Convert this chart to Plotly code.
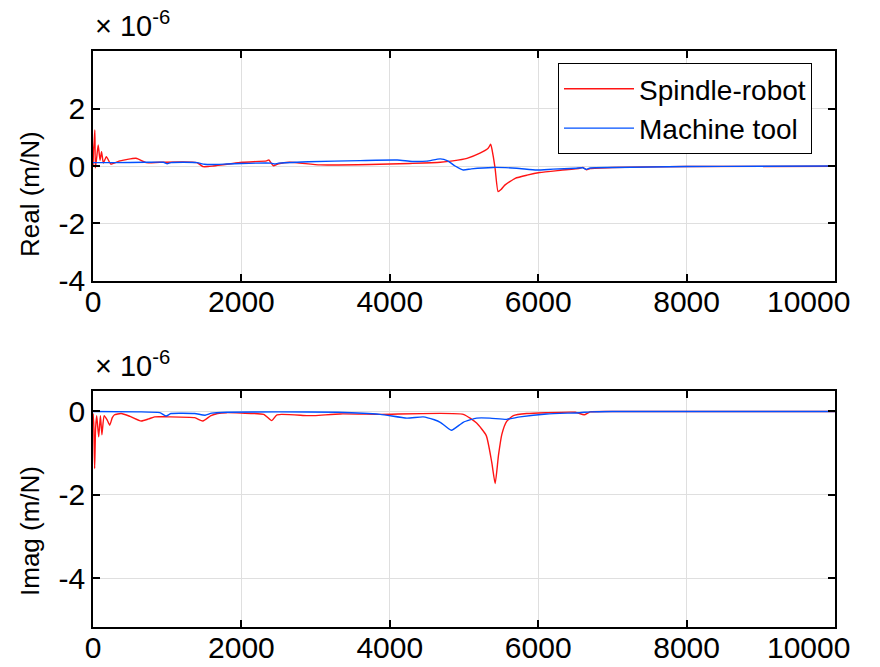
import plotly.graph_objects as go

W, H = 880, 667

# Frequency response (values in units of 1e-6 m/N), frequency in Hz
f_real_spindle = [0, 8, 15, 25, 32, 50, 70, 95, 115, 140, 180, 240, 350, 580, 715, 900,
                  1400, 1480, 1550, 1620, 2020, 2340, 2370, 2430, 2500, 2650, 3060, 3730,
                  4270, 4680, 4850, 5040, 5215, 5325, 5360, 5390, 5420, 5460, 5500, 5550,
                  5690, 5850, 6020, 6300, 6560, 6600, 6650, 6700, 7000, 8000, 10000]
real_spindle = [0.0, 0.6, 0.8, 1.26, -0.07, 0.3, 0.74, 0.2, 0.5, 0.1, 0.33, 0.07, 0.17, 0.27,
                0.12, 0.13, 0.12, -0.02, -0.02, 0.0, 0.13, 0.18, 0.21, 0.01, 0.08, 0.13, 0.04,
                0.05, 0.09, 0.13, 0.18, 0.27, 0.45, 0.62, 0.76, 0.4, -0.1, -0.9, -0.82, -0.67,
                -0.43, -0.32, -0.23, -0.15, -0.08, -0.05, -0.13, -0.09, -0.05, -0.02, -0.01]

f_real_machine = [0, 300, 700, 950, 1000, 1050, 1400, 1500, 1600, 1800, 2000, 2400, 2450,
                  2500, 2900, 3600, 4100, 4300, 4500, 4680, 4780, 4880, 4990, 5100, 5390,
                  5710, 5980, 6200, 6500, 6600, 6650, 6700, 7000, 8000, 9000, 10000]
real_machine = [0.12, 0.12, 0.13, 0.13, 0.08, 0.12, 0.12, 0.06, 0.05, 0.07, 0.09, 0.1, 0.07,
                0.1, 0.15, 0.19, 0.21, 0.16, 0.17, 0.25, 0.18, 0.0, -0.14, -0.1, -0.05, -0.08,
                -0.14, -0.11, -0.08, -0.06, -0.12, -0.07, -0.05, -0.02, -0.01, 0.0]

f_imag_spindle = [0, 10, 22, 35, 50, 77, 100, 120, 150, 190, 225, 260, 290, 380, 500, 650,
                  750, 830, 1010, 1370, 1480, 1590, 1680, 1800, 2000, 2300, 2410, 2480, 2880,
                  3000, 3330, 3870, 4990, 5170, 5300, 5373, 5420, 5465, 5510, 5575, 5665,
                  5845, 6100, 6500, 6620, 6700, 7000, 10000]
imag_spindle = [-0.05, -0.3, -1.37, -0.4, -0.1, -0.61, -0.1, -0.56, -0.1, -0.2, -0.33, -0.15,
                -0.08, -0.05, -0.12, -0.23, -0.18, -0.13, -0.13, -0.15, -0.23, -0.1, -0.05,
                -0.03, -0.04, -0.07, -0.22, -0.08, -0.1, -0.1, -0.06, -0.07, -0.07, -0.28,
                -0.58, -1.21, -1.73, -1.05, -0.55, -0.24, -0.1, -0.05, -0.03, -0.02, -0.08,
                -0.01, 0.0, 0.0]

f_imag_machine = [0, 600, 900, 985, 1050, 1370, 1510, 1600, 1800, 2500, 3300, 3870, 4230,
                  4450, 4600, 4680, 4830, 4990, 5170, 5350, 5575, 5755, 6115, 6560, 6700,
                  7000, 10000]
imag_machine = [0.0, -0.01, -0.03, -0.11, -0.05, -0.05, -0.09, -0.04, -0.02, -0.01, -0.02,
                -0.07, -0.16, -0.13, -0.2, -0.26, -0.45, -0.26, -0.16, -0.16, -0.19, -0.13,
                -0.06, -0.03, -0.01, 0.0, 0.0]

# Tick positions and their labels (last x label is drawn separately, pulled inside the figure)
x_ticks = [0, 2000, 4000, 6000, 8000, 10000]
x_ticktext = ["0", "2000", "4000", "6000", "8000", ""]
x_last_label = "10000"
real_ticks = [-4, -2, 0, 2]
real_ticktext = ["-4", "-2", "0", "2"]
imag_ticks = [-4, -2, 0]
imag_ticktext = ["-4", "-2", "0"]

RED = "rgb(255,20,20)"
BLUE = "rgb(0,80,255)"
FONT = "Liberation Sans, Arial, sans-serif"
GRID = "rgb(223,223,223)"
TICK_SIZE = 30
TITLE_SIZE = 26


def px_x(p):
    return p / W


def px_y(p):
    return 1 - p / H


fig = go.Figure()
line_style = dict(width=1.4, shape="spline", smoothing=0.5)
fig.add_trace(go.Scatter(x=f_real_spindle, y=real_spindle, mode="lines", name="Spindle-robot",
                         line=dict(color=RED, **line_style), xaxis="x", yaxis="y"))
fig.add_trace(go.Scatter(x=f_real_machine, y=real_machine, mode="lines", name="Machine tool",
                         line=dict(color=BLUE, **line_style), xaxis="x", yaxis="y"))
fig.add_trace(go.Scatter(x=f_imag_spindle, y=imag_spindle, mode="lines", showlegend=False,
                         line=dict(color=RED, **line_style), xaxis="x2", yaxis="y2"))
fig.add_trace(go.Scatter(x=f_imag_machine, y=imag_machine, mode="lines", showlegend=False,
                         line=dict(color=BLUE, **line_style), xaxis="x2", yaxis="y2"))

axis_common = dict(showline=True, linecolor="black", linewidth=1.5, mirror="ticks",
                   ticks="inside", ticklen=7, tickwidth=1.5, tickcolor="black",
                   showgrid=True, gridcolor=GRID, gridwidth=1, zeroline=False,
                   tickfont=dict(family=FONT, size=TICK_SIZE, color="black"), automargin=False)

xdom = [px_x(93), px_x(835)]
top_dom = [px_y(281), px_y(51)]
bot_dom = [px_y(627), px_y(391)]
fig.update_layout(
    width=W, height=H,
    margin=dict(l=0, r=0, t=0, b=0),
    paper_bgcolor="white", plot_bgcolor="white",
    xaxis=dict(domain=xdom, range=[0, 10000], tickvals=x_ticks, ticktext=x_ticktext,
               anchor="y", ticklabelstandoff=-7, **axis_common),
    yaxis=dict(domain=top_dom, range=[-4.03, 4.03], tickvals=real_ticks,
               ticktext=real_ticktext, anchor="x", **axis_common),
    xaxis2=dict(domain=xdom, range=[0, 10000], tickvals=x_ticks, ticktext=x_ticktext,
                anchor="y2", ticklabelstandoff=-7, **axis_common),
    yaxis2=dict(domain=bot_dom, range=[-5.17, 0.49], tickvals=imag_ticks,
                ticktext=imag_ticktext, anchor="x2", **axis_common),
    legend=dict(x=px_x(558), y=px_y(63), xanchor="left", yanchor="top",
                bgcolor="white", bordercolor="black", borderwidth=1,
                font=dict(family=FONT, size=28, color="black"), itemwidth=70,
                tracegroupgap=0),
    showlegend=True,
)

# Axis titles
for title, yc in (("Real (m/N)", 194), ("Imag (m/N)", 531)):
    fig.add_annotation(text=title, xref="paper", yref="paper", x=px_x(30), y=px_y(yc),
                       xanchor="center", yanchor="middle", textangle=-90, showarrow=False,
                       font=dict(family=FONT, size=TITLE_SIZE, color="black"))

# Exponent multipliers above each axes
for ybase in (44, 384):
    fig.add_annotation(text="\u00d7 10<sup>-6</sup>", xref="paper", yref="paper",
                       x=px_x(93), y=px_y(ybase), xanchor="left", yanchor="bottom",
                       showarrow=False, font=dict(family=FONT, size=29, color="black"))

# Last x tick label of each axes
for yc in (301, 647):
    fig.add_annotation(text=x_last_label, xref="paper", yref="paper",
                       x=px_x(852), y=px_y(yc), xanchor="right", yanchor="middle",
                       showarrow=False,
                       font=dict(family=FONT, size=TICK_SIZE, color="black"))

fig.write_html("out.html")
